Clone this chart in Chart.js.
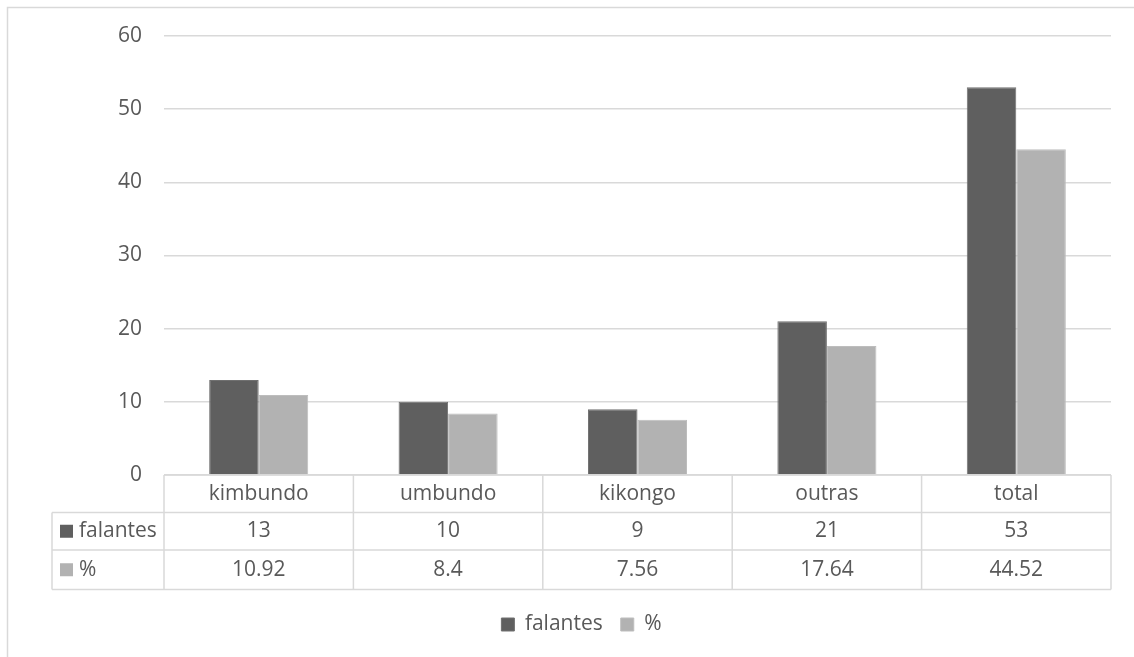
<!DOCTYPE html>
<html>
<head>
<meta charset="utf-8">
<script src="https://cdn.jsdelivr.net/npm/chart.js@4/dist/chart.umd.min.js"></script>
<style>
  html, body { margin: 0; padding: 0; background: #ffffff; }
  #wrap { width: 1134px; height: 657px; position: relative; }
</style>
</head>
<body>
<div id="wrap"><canvas id="c" width="1134" height="657"></canvas></div>
<script>
// Speakers by language and their share
const categories = ['kimbundo', 'umbundo', 'kikongo', 'outras', 'total'];
const falantes = [13, 10, 9, 21, 53];
const percentagem = [10.92, 8.4, 7.56, 17.64, 44.52];
const seriesNames = ['falantes', '%'];
const yTicks = [0, 10, 20, 30, 40, 50, 60];

const DARK = '#5f5f5f';
const LIGHT = '#b2b2b2';
const LINE = '#d9d9d9';
const TEXT = '#595959';
const FONT = '"Open Sans", sans-serif';
const FSIZE = 21;

// Draws the data table under the plot area plus the outer frame
const tablePlugin = {
  id: 'dataTable',
  beforeDraw(chart) {
    const ctx = chart.ctx;
    ctx.save();
    ctx.strokeStyle = LINE;
    ctx.lineWidth = 1.5;
    ctx.strokeRect(7.5, 7.5, 1150, 680);
    ctx.restore();
  },
  afterDraw(chart) {
    const ctx = chart.ctx;
    const x = chart.scales.x;
    const area = chart.chartArea;
    const colW = (area.right - area.left) / categories.length;
    const rowH = 37.5;
    const y0 = area.bottom;
    const y1 = y0 + rowH, y2 = y1 + rowH, y3 = y2 + rowH + 2;
    const labelLeft = 52;

    ctx.save();
    ctx.strokeStyle = LINE;
    ctx.lineWidth = 1.5;
    ctx.beginPath();
    // horizontal rules
    ctx.moveTo(area.left, y0); ctx.lineTo(area.right, y0);
    [y1, y2, y3].forEach(y => { ctx.moveTo(labelLeft, y); ctx.lineTo(area.right, y); });
    // vertical rules
    ctx.moveTo(labelLeft, y1); ctx.lineTo(labelLeft, y3);
    for (let i = 0; i <= categories.length; i++) {
      const xx = area.left + i * colW;
      ctx.moveTo(xx, y0); ctx.lineTo(xx, y3);
    }
    ctx.stroke();

    ctx.fillStyle = TEXT;
    ctx.font = FSIZE + 'px ' + FONT;
    ctx.textAlign = 'center';
    ctx.textBaseline = 'middle';
    const rows = [falantes, percentagem];
    categories.forEach((c, i) => {
      const cx = x.getPixelForValue(i);
      ctx.fillText(c, cx, (y0 + y1) / 2);
      ctx.fillText(String(rows[0][i]), cx, (y1 + y2) / 2);
      ctx.fillText(String(rows[1][i]), cx, (y2 + y3) / 2);
    });

    // row headers with series keys
    const colors = [DARK, LIGHT];
    const mids = [(y1 + y2) / 2, (y2 + y3) / 2];
    ctx.textAlign = 'left';
    seriesNames.forEach((n, k) => {
      ctx.fillStyle = colors[k];
      ctx.fillRect(60, mids[k] - 6.5, 13, 13);
      ctx.fillStyle = TEXT;
      ctx.fillText(n, 79, mids[k]);
    });
    ctx.restore();
  }
};

new Chart(document.getElementById('c'), {
  type: 'bar',
  data: {
    labels: categories,
    datasets: [
      { label: seriesNames[0], data: falantes, backgroundColor: DARK, borderColor: '#707070', borderWidth: 1 },
      { label: seriesNames[1], data: percentagem, backgroundColor: LIGHT, borderColor: '#bdbdbd', borderWidth: 1 }
    ]
  },
  options: {
    responsive: false,
    animation: false,
    devicePixelRatio: 1,
    layout: { padding: { top: 36, right: 23, bottom: 12, left: 52 } },
    datasets: { bar: { barPercentage: 1, categoryPercentage: 0.523 } },
    scales: {
      x: {
        grid: { display: false, drawTicks: false },
        border: { display: false },
        ticks: { display: false },
        afterFit(scale) { scale.height = 121; }
      },
      y: {
        min: 0, max: 60,
        afterBuildTicks(scale) { scale.ticks = yTicks.map(v => ({ value: v })); },
        grid: { color: LINE, lineWidth: 1.5, drawTicks: false },
        border: { display: false },
        ticks: { color: TEXT, font: { family: FONT, size: FSIZE }, padding: 22 },
        afterFit(scale) { scale.width = 112; }
      }
    },
    plugins: {
      tooltip: { enabled: false },
      legend: {
        position: 'bottom',
        labels: {
          color: TEXT,
          font: { family: FONT, size: FSIZE },
          boxWidth: 13, boxHeight: 13, padding: 18
        }
      }
    }
  },
  plugins: [tablePlugin]
});
</script>
</body>
</html>
